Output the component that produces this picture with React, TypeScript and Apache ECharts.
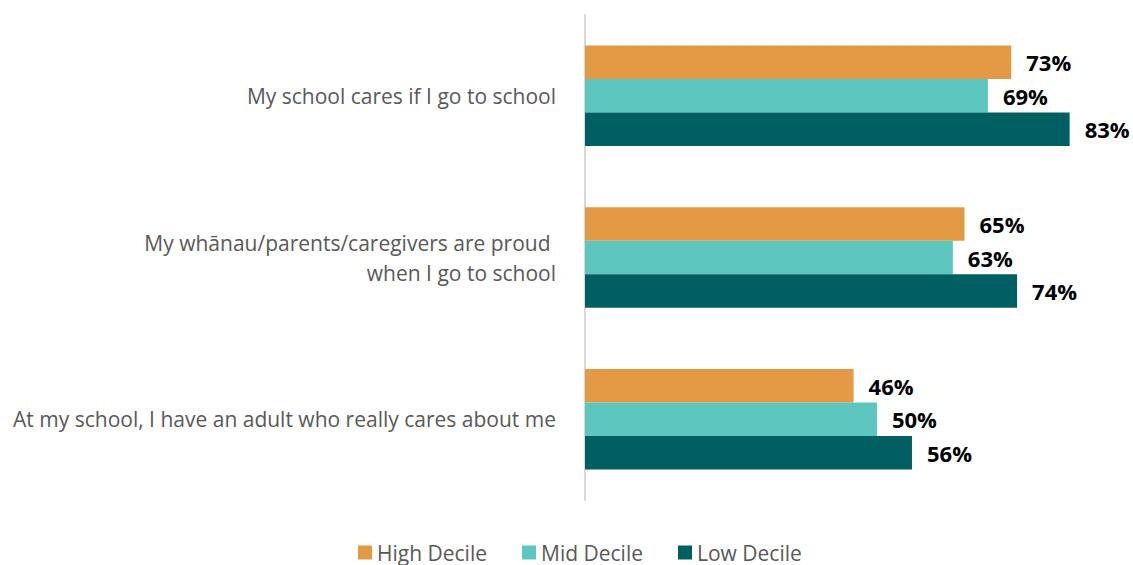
import React, { useEffect, useRef } from "react";
import * as echarts from "echarts";

const categories = [
  "My school cares if I go to school",
  "My whānau/parents/caregivers are proud \nwhen I go to school",
  "At my school, I have an adult who really cares about me",
];
const seriesNames = ["High Decile", "Mid Decile", "Low Decile"];
const highDecile = [73, 65, 46];
const midDecile = [69, 63, 50];
const lowDecile = [83, 74, 56];
const colors = ["#E49A45", "#5DC6BF", "#005F60"];

export default function App() {
  const ref = useRef<HTMLDivElement>(null);
  useEffect(() => {
    document.body.style.margin = "0";
    if (!ref.current) return;
    const chart = echarts.init(ref.current, null, { renderer: "svg" });
    const values = [highDecile, midDecile, lowDecile];
    const font = "'Open Sans', sans-serif";
    chart.setOption({
      animation: false,
      grid: { left: 585, right: 22.5, top: 15, bottom: 65, containLabel: false },
      legend: {
        top: 537,
        left: 353,
        itemWidth: 14,
        itemHeight: 14,
        itemGap: 35,
        icon: "rect",
        textStyle: { fontFamily: font, fontSize: 21, color: "#595959" },
        data: seriesNames,
      },
      xAxis: {
        type: "value",
        min: 0,
        max: 90,
        show: false,
      },
      yAxis: {
        type: "category",
        inverse: true,
        data: categories,
        axisLine: { show: true, lineStyle: { color: "#D9D9D9", width: 2 } },
        axisTick: { show: false },
        axisLabel: {
          margin: 29,
          fontFamily: font,
          fontSize: 21,
          color: "#595959",
          align: "right",
          lineHeight: 30,
        },
      },
      series: seriesNames.map((name, i) => ({
        name,
        type: "bar",
        data: values[i],
        barWidth: 33.5,
        barGap: "0%",
        itemStyle: { color: colors[i] },
        label: {
          show: true,
          position: "right",
          distance: 15,
          formatter: "{c}%",
          fontFamily: font,
          fontSize: 22,
          fontWeight: "bold",
          color: "#000000",
        },
      })),
    });
    return () => chart.dispose();
  }, []);
  return <div ref={ref} style={{ width: 1133, height: 565 }} />;
}
